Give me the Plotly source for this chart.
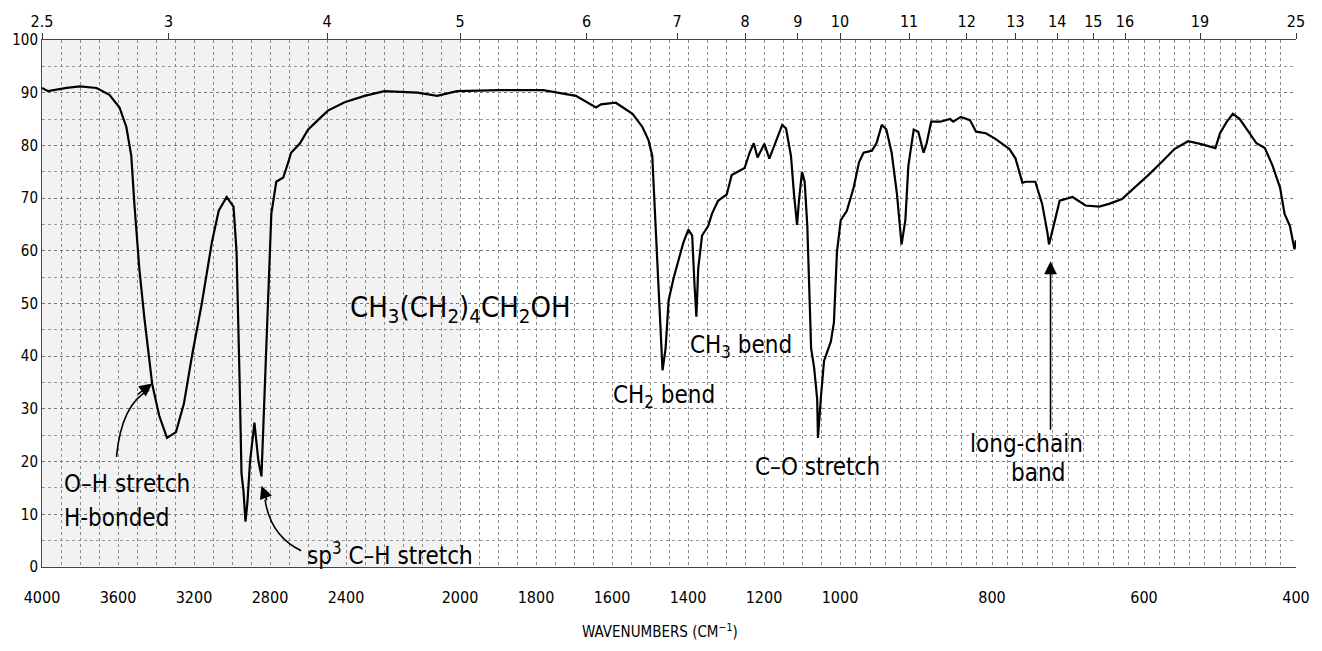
import plotly.graph_objects as go

# ---------------- data ----------------
wavenumber = [4000, 3968, 3870, 3800, 3713, 3645, 3592, 3556, 3530, 3514, 3488, 3462, 3420, 3383,
              3342, 3295, 3253, 3211, 3159, 3106, 3070, 3028, 2992, 2976, 2960, 2950, 2940, 2929,
              2919, 2905, 2882, 2861, 2845, 2825, 2809, 2793, 2767, 2730, 2704, 2689, 2642, 2600,
              2548, 2495, 2407, 2302, 2199, 2112, 2060, 2008, 1896, 1781, 1695, 1642, 1629, 1590,
              1546, 1520, 1504, 1494, 1486, 1478, 1467, 1459, 1451, 1438, 1425, 1412, 1399, 1389,
              1383, 1378, 1373, 1363, 1347, 1337, 1321, 1298, 1285, 1264, 1251, 1238, 1227, 1217,
              1199, 1186, 1173, 1152, 1142, 1129, 1121, 1113, 1108, 1100, 1093, 1086, 1076, 1068,
              1060, 1058, 1050, 1042, 1024, 1016, 1008, 999, 991, 982, 975, 969, 958, 952, 945,
              939, 932, 925, 919, 914, 910, 903, 897, 890, 886, 880, 868, 855, 851, 841, 829, 821,
              808, 795, 777, 769, 760, 756, 743, 734, 727, 725, 718, 711, 694, 677, 659, 646, 629,
              612, 594, 577, 560, 542, 526, 506, 500, 491, 483, 474, 461, 452, 441, 431, 421, 415,
              408, 402, 400]
transmittance = [90.9, 90.3, 90.9, 91.2, 90.9, 89.6, 87.2, 83.5, 78, 69, 56.7, 47.5, 34.7, 28.7,
                 24.5, 25.6, 31, 40, 50, 61.6, 67.6, 70.2, 68.4, 59.8, 35.5, 17.7, 14.6, 8.6,
                 12.2, 20, 27.4, 20.1, 17.2, 35.5, 53.7, 67, 73.1, 73.9, 76.8, 78.6, 80.4, 83,
                 84.8, 86.6, 88.2, 89.4, 90.3, 90, 89.4, 90.3, 90.5, 90.5, 89.4, 87.2, 87.8, 88.1,
                 86, 83.5, 81, 78, 65.8, 53.7, 37.3, 41.5, 50.6, 54.8, 58, 61.6, 64, 62.9,
                 53.7, 47.5, 56.7, 62.9, 64.7, 67, 69.5, 70.7, 74.4, 75.3, 75.7, 78.6, 80.4, 77.7,
                 80.3, 77.5, 79.9, 83.9, 83.2, 78, 70.7, 64.9, 69.5, 75, 73.1, 64.7, 41.5, 37.8,
                 31.8, 24.5, 32.4, 39.1, 42.8, 46.4, 59.8, 65.8, 67.6, 72, 76.8, 78.6, 79, 80.4, 83.9,
                 83, 78.6, 70.7, 61.2, 65.8, 76.2, 83, 82.6, 78.6, 80.4, 84.5, 84.5, 85, 84.5, 85.4, 84.8, 82.6,
                 82.3, 81.2, 79.3, 77.5, 72.9, 73.1, 73.1, 68.9, 63.4, 61.2, 65.3, 69.5, 70.2, 68.6, 68.4, 68.9, 69.8,
                 72, 74.4, 76.8, 79.3, 80.8, 80.3, 79.5, 82.3, 84.5, 86, 85, 82.3, 80.4, 79.5, 76.2, 72, 67,
                 64.7, 60.3, 62]

bottom_ticks = [4000, 3600, 3200, 2800, 2400, 2000, 1800, 1600, 1400, 1200, 1000, 800, 600, 400]
top_microns = [2.5, 3, 4, 5, 6, 7, 8, 9, 10, 11, 12, 13, 14, 15, 16, 19, 25]
y_ticks = [0, 10, 20, 30, 40, 50, 60, 70, 80, 90, 100]


# chart paper scale: 4000-2200 at 1x, 2200-1000 at 2x, 1000-400 at 4x
def to_u(w):
    if w >= 2200:
        return 4000 - w
    if w >= 1000:
        return 1800 + (2200 - w) * 2
    return 4200 + (1000 - w) * 4


U_MAX = to_u(400)
FONT = "Liberation Sans Narrow, Arial Narrow, DejaVu Sans Condensed, Liberation Sans, Arial, sans-serif"

# grid positions
grid_w = list(range(4000, 2200, -100)) + list(range(2200, 1000, -50)) + list(range(1000, 399, -20))

fig = go.Figure()
fig.add_trace(go.Scatter(x=[to_u(w) for w in wavenumber], y=transmittance, mode="lines",
                         line=dict(color="black", width=2.2), hoverinfo="skip", showlegend=False))
fig.add_trace(go.Scatter(x=[0, U_MAX], y=[None, None], xaxis="x2", mode="lines",
                         showlegend=False, hoverinfo="skip"))

fig.update_layout(
    width=1322, height=651,
    margin=dict(l=42, r=17, t=22, b=84),
    paper_bgcolor="white", plot_bgcolor="white",
    font=dict(family=FONT, color="black", size=15),
    xaxis=dict(range=[0, U_MAX], tickvals=[to_u(w) for w in bottom_ticks],
               ticktext=[str(w) for w in bottom_ticks], showgrid=False, zeroline=False,
               ticks="", tickfont=dict(size=16), ticklabelstandoff=16,
               showline=True, linecolor="#444", linewidth=1,
               minor=dict(tickvals=[to_u(w) for w in grid_w], showgrid=True,
                          gridcolor="#8a8a8a", griddash="dot", gridwidth=1)),
    xaxis2=dict(range=[0, U_MAX], overlaying="x", side="top",
                tickvals=[to_u(10000 / m) for m in top_microns],
                ticktext=[("%g" % m) for m in top_microns], showgrid=False, zeroline=False,
                ticks="outside", ticklen=6, tickcolor="#333", tickfont=dict(size=16),
                showline=True, linecolor="#444", linewidth=1),
    yaxis=dict(range=[0, 100], tickvals=y_ticks, ticktext=[str(v) for v in y_ticks],
               showgrid=True, gridcolor="#777", griddash="dot", gridwidth=1, zeroline=False,
               ticks="", tickfont=dict(size=15), showline=True, linecolor="#444", linewidth=1,
               minor=dict(dtick=5, showgrid=True, gridcolor="#9a9a9a", griddash="dot", gridwidth=1)),
)

# darker stipple over the compressed high-wavenumber part of the chart paper
fig.add_shape(type="rect", xref="x", yref="y", x0=to_u(4000), x1=to_u(2000), y0=0, y1=100,
              fillcolor="rgba(0,0,0,0.05)", line=dict(width=0), layer="below")

lab = dict(size=24, family=FONT, color="black")
annots = [
    dict(x=to_u(2000), y=49, text="CH<sub>3</sub>(CH<sub>2</sub>)<sub>4</sub>CH<sub>2</sub>OH",
         xanchor="center", font=dict(size=29, family=FONT, color="black")),
    dict(x=to_u(3895), y=15.8, text="O–H stretch", xanchor="left", font=lab),
    dict(x=to_u(3895), y=9.3, text="H-bonded", xanchor="left", font=lab),
    dict(x=to_u(2615), y=2.4, text="sp<sup>3</sup> C–H stretch", xanchor="left", font=lab),
    dict(x=to_u(1464), y=32.3, text="CH<sub>2</sub> bend", xanchor="center", font=lab),
    dict(x=to_u(1260), y=41.8, text="CH<sub>3</sub> bend", xanchor="center", font=lab),
    dict(x=to_u(1059), y=18.9, text="C–O stretch", xanchor="center", font=lab),
    dict(x=to_u(755), y=23.3, text="long-chain", xanchor="center", font=lab),
    dict(x=to_u(740), y=17.8, text="band", xanchor="center", font=lab),
]
for a in annots:
    fig.add_annotation(xref="x", yref="y", showarrow=False, yanchor="middle", **a)

# curved arrows (bodies as paths, heads as annotation arrows)
fig.add_shape(type="path", xref="x", yref="y",
              path=f"M 392,20.9 Q 418,31 {to_u(3436)},33.6", line=dict(color="black", width=1.6))
fig.add_annotation(xref="x", yref="y", x=to_u(3420), y=34.8, ax=-16, ay=12, text="",
                   showarrow=True, arrowhead=2, arrowsize=1.6, arrowwidth=1.6, arrowcolor="black")
fig.add_shape(type="path", xref="x", yref="y",
              path=f"M {to_u(2826)},12.8 Q 1202,5.9 1364,3.1", line=dict(color="black", width=1.6))
fig.add_annotation(xref="x", yref="y", x=to_u(2845), y=15.4, ax=6, ay=16, text="",
                   showarrow=True, arrowhead=2, arrowsize=1.6, arrowwidth=1.6, arrowcolor="black")
fig.add_annotation(xref="x", yref="y", x=to_u(723), y=58, ax=0, ay=170, text="",
                   showarrow=True, arrowhead=2, arrowsize=1.6, arrowwidth=1.6, arrowcolor="black")

fig.add_annotation(xref="paper", yref="paper", x=0.493, y=-0.121, showarrow=False,
                   xanchor="center", yanchor="middle",
                   text="WAVENUMBERS (CM<sup>−1</sup>)", font=dict(size=15, family=FONT))

fig.write_html("out.html")
